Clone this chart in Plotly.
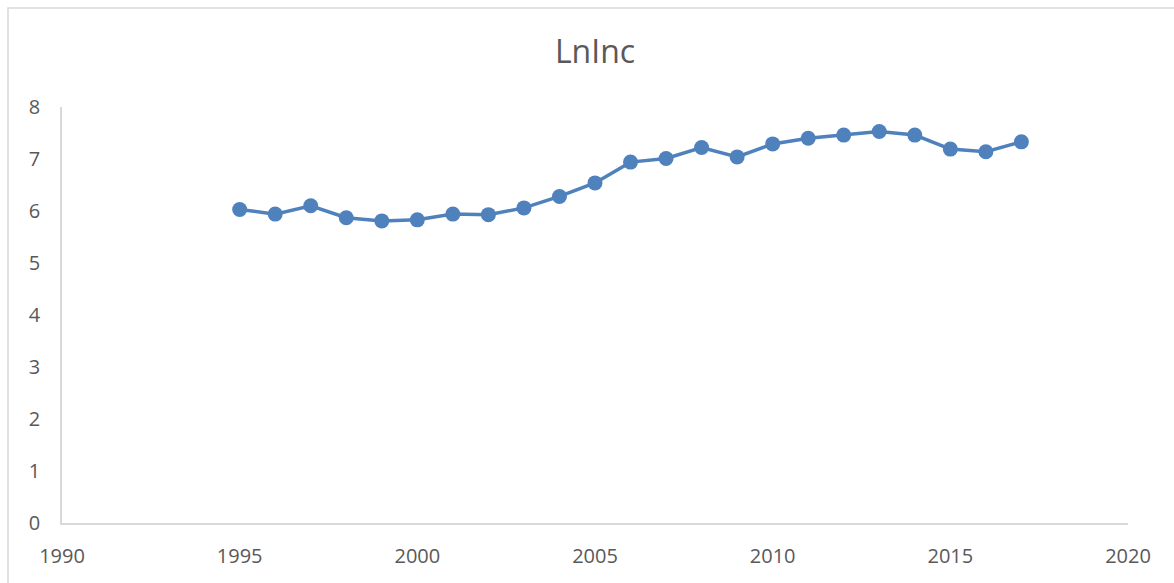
import plotly.graph_objects as go

years = [1995, 1996, 1997, 1998, 1999, 2000, 2001, 2002, 2003, 2004, 2005, 2006,
         2007, 2008, 2009, 2010, 2011, 2012, 2013, 2014, 2015, 2016, 2017]
lninc = [6.03, 5.94, 6.10, 5.87, 5.81, 5.83, 5.94, 5.93, 6.06, 6.28, 6.54, 6.94,
         7.01, 7.22, 7.04, 7.29, 7.40, 7.46, 7.53, 7.46, 7.19, 7.14, 7.33]
title_text = "LnInc"

W, H = 1174, 583
ml, mr, mt, mb = 62, 46, 107, 60
pw, ph = W - ml - mr, H - mt - mb

def px2paper_x(px):
    return (px - ml) / pw

def px2paper_y(py):
    return (H - mb - py) / ph

line_color = "#4f81bd"
text_color = "#595959"
axis_color = "#d9d9d9"
font_family = "Open Sans, Lato, sans-serif"

fig = go.Figure()
fig.add_trace(go.Scatter(
    x=years, y=lninc, mode="lines+markers",
    line=dict(color=line_color, width=3.5),
    marker=dict(color=line_color, size=15),
    cliponaxis=False, showlegend=False,
))

fig.update_layout(
    width=W, height=H,
    margin=dict(l=ml, r=mr, t=mt, b=mb),
    paper_bgcolor="white", plot_bgcolor="white",
    font=dict(family=font_family, color=text_color, size=20),
    title=dict(text=title_text, x=595 / W, xanchor="center",
               y=1 - 52 / H, yanchor="middle",
               font=dict(size=32, color=text_color, family=font_family)),
    xaxis=dict(range=[1990, 2020], tick0=1990, dtick=5, showgrid=False,
               zeroline=False, showline=True, linecolor=axis_color, linewidth=1.5,
               ticks="", ticklabelstandoff=14,
               tickfont=dict(size=20, color=text_color)),
    yaxis=dict(range=[0, 8], tick0=0, dtick=1, showgrid=False,
               zeroline=False, showline=True, linecolor=axis_color, linewidth=1.5,
               ticks="", ticklabelstandoff=16,
               tickfont=dict(size=20, color=text_color)),
    shapes=[dict(type="rect", xref="paper", yref="paper",
                 x0=px2paper_x(8), x1=px2paper_x(W + 10),
                 y0=px2paper_y(H + 10), y1=px2paper_y(8),
                 line=dict(color=axis_color, width=1.5), layer="below")],
)

fig.write_html("out.html")
